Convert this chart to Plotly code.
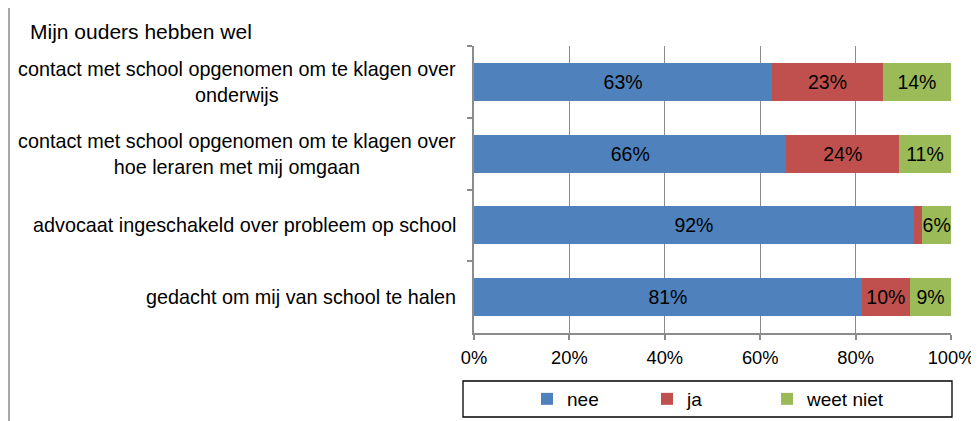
import plotly.graph_objects as go

categories = [
    "contact met school opgenomen om te klagen over<br>onderwijs",
    "contact met school opgenomen om te klagen over<br>hoe leraren met mij omgaan",
    "advocaat ingeschakeld over probleem op school",
    "gedacht om mij van school te halen",
]
series_names = ["nee", "ja", "weet niet"]
nee = [62.5, 65.5, 92.2, 81.3]
ja = [23.2, 23.6, 1.8, 10.1]
weet_niet = [14.3, 10.9, 6.0, 8.6]
nee_labels = ["63%", "66%", "92%", "81%"]
ja_labels = ["23%", "24%", "", "10%"]
weet_niet_labels = ["14%", "11%", "6%", "9%"]
x_ticks = [0, 20, 40, 60, 80, 100]
title_text = "Mijn ouders hebben wel"

colors = ["#4F81BD", "#C0504D", "#9BBB59"]
FONT = "Liberation Sans, Arial, sans-serif"

fig = go.Figure()
for name, vals, labels, col in zip(series_names, [nee, ja, weet_niet],
                                   [nee_labels, ja_labels, weet_niet_labels], colors):
    fig.add_trace(go.Bar(
        y=categories, x=vals, name=name, orientation="h",
        marker=dict(color=col, line=dict(width=0)),
        text=labels, textposition="inside", insidetextanchor="middle",
        textangle=0,
        textfont=dict(family=FONT, size=19.5, color="black"),
        hoverinfo="skip",
    ))

# the page body has an 8px margin: build the figure 8px smaller and offset
OFF = 8
W, H = 979 - OFF, 421 - OFF
L, R, T = 474 - OFF, 28, 46 - OFF
B = H - (333 - OFF)
pw, ph = W - L - R, H - T - B

def px_x(p):
    return (p - OFF - L) / pw

def px_y(p):
    return (H - B - (p - OFF)) / ph

shapes = [
    dict(type="rect", xref="paper", yref="paper",
         x0=px_x(9), x1=px_x(1000), y0=px_y(440), y1=px_y(6),
         line=dict(color="#8C8C8C", width=1.5), fillcolor="rgba(0,0,0,0)", layer="below"),
    dict(type="rect", xref="paper", yref="paper",
         x0=px_x(463), x1=px_x(952), y0=px_y(417), y1=px_y(381),
         line=dict(color="black", width=1.3), fillcolor="rgba(0,0,0,0)"),
]

annotations = [
    dict(text=title_text, xref="paper", yref="paper", x=px_x(28), y=px_y(32),
         xanchor="left", yanchor="middle", showarrow=False,
         font=dict(family=FONT, size=21, color="black")),
]
for c in categories:
    annotations.append(dict(
        text=c, xref="paper", yref="y", x=0, y=c, xanchor="right", yanchor="middle",
        xshift=-16, align="center", showarrow=False,
        font=dict(family=FONT, size=19.8, color="black")))

fig.update_layout(
    width=W, height=H, barmode="stack", bargap=0.47,
    margin=dict(l=L, r=R, t=T, b=B, pad=0, autoexpand=False),
    paper_bgcolor="white", plot_bgcolor="white",
    font=dict(family=FONT, color="black"),
    showlegend=True,
    legend=dict(orientation="h", xanchor="center", yanchor="middle",
                x=px_x(707), y=px_y(399), font=dict(family=FONT, size=19),
                entrywidth=75, bgcolor="rgba(0,0,0,0)", borderwidth=0,
                traceorder="normal"),
    uniformtext=dict(minsize=19.5, mode="show"),
    shapes=shapes, annotations=annotations,
)
fig.update_xaxes(range=[0, 100], tickvals=x_ticks, ticktext=[f"{v}%" for v in x_ticks],
                 showgrid=True, gridcolor="#8C8C8C", gridwidth=1,
                 showline=True, linecolor="#8C8C8C", linewidth=1.5,
                 ticks="outside", ticklen=5, tickcolor="#8C8C8C", tickwidth=1.5,
                 ticklabelstandoff=2, automargin=False,
                 tickfont=dict(family=FONT, size=18.3, color="black"), zeroline=False,
                 fixedrange=True)
fig.update_yaxes(autorange="reversed", showticklabels=False, showgrid=False,
                 showline=True, linecolor="#8C8C8C", linewidth=1.5,
                 ticks="outside", ticklen=5, tickcolor="#8C8C8C", tickwidth=1.5,
                 tickson="boundaries", automargin=False, fixedrange=True)

fig.write_html("out.html")
